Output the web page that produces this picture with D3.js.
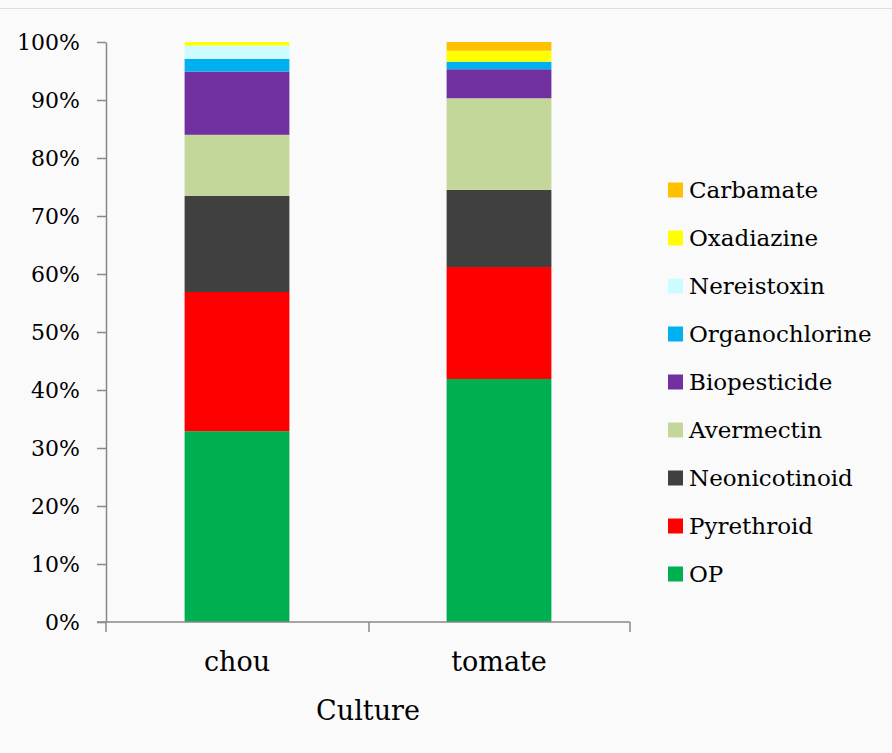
<!DOCTYPE html>
<html><head><meta charset="utf-8">
<script src="https://cdn.jsdelivr.net/npm/d3@7"></script>
<style>body{margin:0;background:#fafafa;} svg{display:block;}</style>
</head><body>
<script>
const categories = ["chou", "tomate"];
const seriesNames = ["OP","Pyrethroid","Neonicotinoid","Avermectin","Biopesticide","Organochlorine","Nereistoxin","Oxadiazine","Carbamate"];
const colors = ["#00b050","#ff0000","#404040","#c4d79b","#7030a0","#00b0f0","#ccfcff","#ffff00","#ffc000"];
const chouValues   = [32.9, 24.0, 16.6, 10.5, 10.9, 2.2, 2.3, 0.6, 0.0];
const tomateValues = [41.9, 19.3, 13.3, 15.8, 5.0, 1.3, 0.0, 1.9, 1.5];
const yTicks = [0,10,20,30,40,50,60,70,80,90,100];

const W = 892, H = 753;
const svg = d3.select("body").append("svg").attr("width", W).attr("height", H);
svg.append("rect").attr("width", W).attr("height", H).attr("fill", "#fafafa");
svg.append("line").attr("x1",0).attr("x2",W).attr("y1",8.5).attr("y2",8.5).attr("stroke","#dddddd");

const font = "'DejaVu Serif', 'Liberation Serif', serif";
const x = d3.scaleBand().domain(categories).range([106, 630]).paddingInner(0.6).paddingOuter(0.3);
const y = d3.scaleLinear().domain([0, 100]).range([622, 42]);

const rows = categories.map((c, i) => {
  const vals = i === 0 ? chouValues : tomateValues;
  const o = {cat: c};
  seriesNames.forEach((s, j) => o[s] = vals[j]);
  return o;
});
const stack = d3.stack().keys(seriesNames)(rows);

svg.append("g").selectAll("g").data(stack).join("g")
  .attr("fill", (d, i) => colors[i])
  .selectAll("rect").data(d => d).join("rect")
  .attr("x", d => x(d.data.cat))
  .attr("width", x.bandwidth())
  .attr("y", d => y(d[1]))
  .attr("height", d => Math.max(0, y(d[0]) - y(d[1])));

// Y axis
const yAxis = svg.append("g").attr("transform", "translate(106,0)")
  .call(d3.axisLeft(y).tickValues(yTicks).tickFormat(d => d + "%").tickSize(9).tickSizeOuter(0));
yAxis.select(".domain").attr("stroke", "#888").attr("stroke-width", 1.5);
yAxis.selectAll(".tick line").attr("stroke", "#888").attr("stroke-width", 1.5);
yAxis.selectAll(".tick text").attr("fill", "#000").attr("font-family", font).attr("font-size", 22).attr("x", -26).attr("dy", "0.35em");

// X axis
const xTickPos = [106, 369, 630];
svg.append("line").attr("x1", 97).attr("x2", 630).attr("y1", 622).attr("y2", 622).attr("stroke", "#888").attr("stroke-width", 1.5);
svg.selectAll(".xt").data(xTickPos).join("line").attr("class","xt")
  .attr("x1", d => d).attr("x2", d => d).attr("y1", 622).attr("y2", 632)
  .attr("stroke", "#888").attr("stroke-width", 1.5);
svg.selectAll(".xl").data(categories).join("text").attr("class","xl")
  .attr("x", d => x(d) + x.bandwidth()/2).attr("y", 671)
  .attr("text-anchor", "middle").attr("font-family", font).attr("font-size", 27).text(d => d);
svg.append("text").attr("x", 368).attr("y", 720).attr("text-anchor", "middle")
  .attr("font-family", font).attr("font-size", 27).text("Culture");

// Legend
const legendOrder = seriesNames.map((s, i) => ({name: s, color: colors[i]})).reverse();
const lg = svg.append("g").selectAll("g").data(legendOrder).join("g")
  .attr("transform", (d, i) => `translate(668, ${190 + i * 48})`);
lg.append("rect").attr("x", 0).attr("y", -7.5).attr("width", 15).attr("height", 15).attr("fill", d => d.color);
lg.append("text").attr("x", 21).attr("y", 0).attr("dy", "0.35em")
  .attr("font-family", font).attr("font-size", 23).text(d => d.name);
</script>
</body></html>
